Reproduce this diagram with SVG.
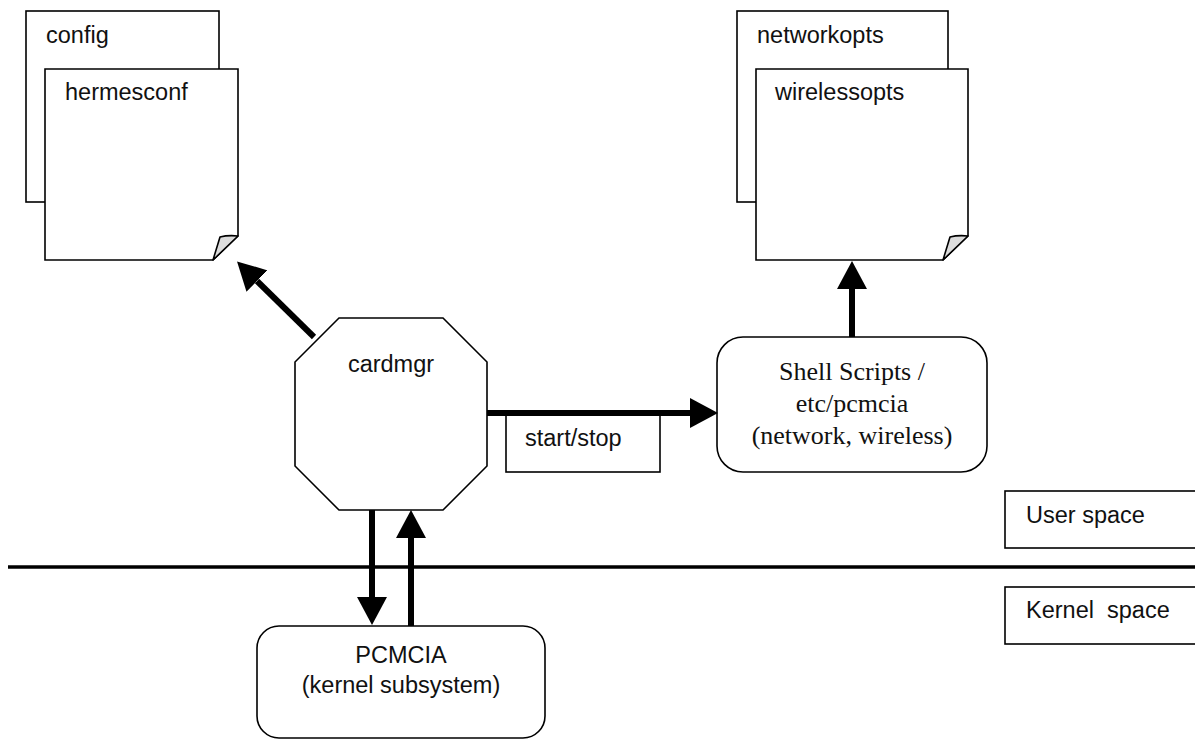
<svg xmlns="http://www.w3.org/2000/svg" width="1195" height="740" viewBox="0 0 1195 740">
<style>
.sh{fill:#fff;stroke:#000;stroke-width:1.6}
.fold{fill:#dcdcdc;stroke:#000;stroke-width:1.6;stroke-linejoin:round}
.t{font-family:"Liberation Sans",Arial,sans-serif;font-size:23.5px;fill:#111}
.ts{font-family:"Liberation Serif","Times New Roman",serif;font-size:26px;fill:#111}
.c{stroke:#000;stroke-width:6;fill:none}
</style>
<defs>
<marker id="ah" markerUnits="userSpaceOnUse" markerWidth="28" markerHeight="30" refX="0" refY="15" orient="auto" viewBox="0 0 28 30">
<path d="M0,0 L28,15 L0,30 Z" fill="#000"/>
</marker>
</defs>
<rect width="1195" height="740" fill="#fff"/>

<g id="divider">
<line x1="8" y1="567" x2="1195" y2="567" stroke="#000" stroke-width="3.5"/>
</g>

<g id="config">
<rect class="sh" x="26" y="11" width="193" height="191"/>
<text class="t" x="46" y="43">config</text>
</g>
<g id="hermesconf">
<path class="sh" d="M45,69 H238 V236 L213,260 H45 Z"/>
<path class="fold" d="M213,260 L220,237 Q228,235 238,236 Z"/>
<text class="t" x="65" y="100">hermesconf</text>
</g>

<g id="networkopts">
<rect class="sh" x="737" y="11" width="211" height="191"/>
<text class="t" x="757" y="43">networkopts</text>
</g>
<g id="wirelessopts">
<path class="sh" d="M756,69 H968 V236 L943,260 H756 Z"/>
<path class="fold" d="M943,260 L950,237 Q958,235 968,236 Z"/>
<text class="t" x="775" y="100">wirelessopts</text>
</g>

<g id="cardmgr">
<polygon class="sh" points="339,318 443,318 487,362 487,466 443,510 339,510 295,466 295,362"/>
<text class="t" x="391" y="372" text-anchor="middle">cardmgr</text>
</g>

<g id="shell">
<rect class="sh" x="717" y="337" width="270" height="135" rx="26" ry="26"/>
<text class="ts" x="852" y="380" text-anchor="middle">Shell Scripts /</text>
<text class="ts" x="852" y="412" text-anchor="middle">etc/pcmcia</text>
<text class="ts" x="852" y="444" text-anchor="middle">(network, wireless)</text>
</g>

<g id="startstop">
<rect class="sh" x="506" y="415" width="154" height="57"/>
<text class="t" x="525" y="446">start/stop</text>
</g>

<g id="pcmcia">
<rect class="sh" x="257" y="626" width="288" height="112" rx="22" ry="22"/>
<text class="t" x="401" y="663" text-anchor="middle">PCMCIA</text>
<text class="t" x="401" y="693" text-anchor="middle">(kernel subsystem)</text>
</g>

<g id="userspace">
<rect class="sh" x="1005" y="491" width="200" height="57"/>
<text class="t" x="1026" y="523">User space</text>
</g>
<g id="kernelspace">
<rect class="sh" x="1005" y="587" width="200" height="57"/>
<text class="t" x="1026" y="618" xml:space="preserve" style="white-space:pre">Kernel  space</text>
</g>

<g id="connectors">
<line class="c" x1="314" y1="337" x2="257" y2="281" marker-end="url(#ah)"/>
<line class="c" x1="487" y1="413" x2="690" y2="413" marker-end="url(#ah)"/>
<line class="c" x1="852" y1="337" x2="852" y2="289" marker-end="url(#ah)"/>
<line class="c" x1="372" y1="510" x2="372" y2="597" marker-end="url(#ah)"/>
<line class="c" x1="411" y1="626" x2="411" y2="538" marker-end="url(#ah)"/>
</g>
</svg>
